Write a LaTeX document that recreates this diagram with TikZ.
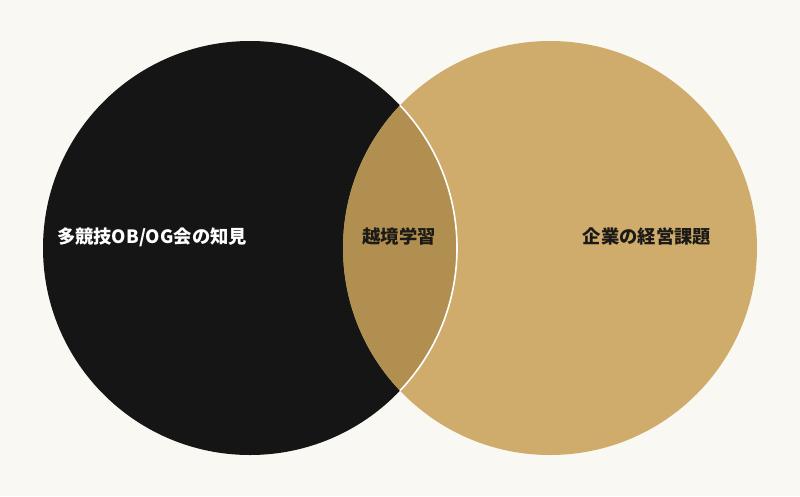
\documentclass[tikz,border=0pt]{standalone}
\usepackage{fontspec}
\newfontfamily\jpfont{Noto Sans CJK JP}
\definecolor{paper}{HTML}{F9F8F3}
\definecolor{ink}{HTML}{151515}
\definecolor{gold}{HTML}{CFAC6C}
\definecolor{lensgold}{HTML}{B08F50}
\definecolor{dark}{HTML}{1C1A17}

\begin{document}
\begin{tikzpicture}[x=1pt, y=-1pt, circ/.style={circle, minimum size=414pt, inner sep=0pt}, lbl/.style={font=\jpfont\bfseries\fontsize{18.3}{22}\selectfont, inner sep=0pt}]

  \fill[paper] (0,0) rectangle (800,496);
  \useasboundingbox (0,0) rectangle (800,496);

  \node[circ, fill=ink] (og) at (250,248) {};
  \node[circ, fill=gold] (biz) at (550,248) {};

  % overlap
  \begin{scope}
    \clip (og.center) circle (207pt);
    \fill[lensgold] (biz.center) circle (207pt);
  \end{scope}
  \begin{scope}
    \clip (biz.center) circle (207pt);
    \draw[white, line width=1.6pt] (og.center) circle (207pt);
  \end{scope}

  \node[lbl, text=white] (know) at (152,237) {多競技OB/OG会の知見};
  \node[lbl, text=dark] (cross) at (399,237) {越境学習};
  \node[lbl, text=dark] (issue) at (647,237) {企業の経営課題};
\end{tikzpicture}
\end{document}
